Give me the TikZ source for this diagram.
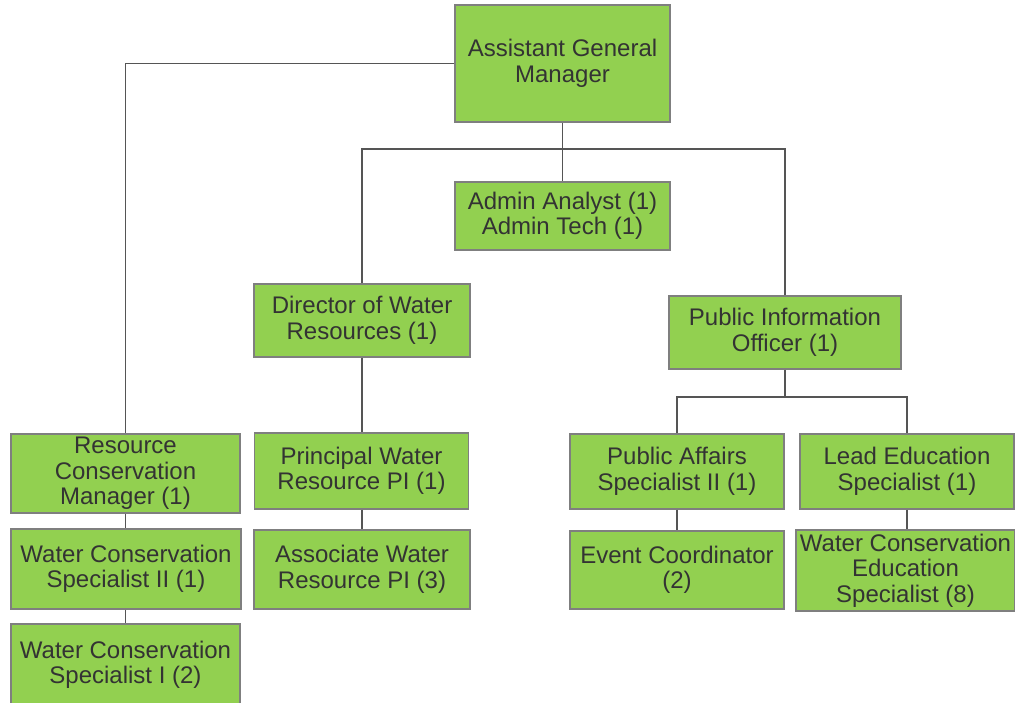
\documentclass[tikz,border=0pt]{standalone}
\usepackage{fontspec}
\setmainfont{Liberation Sans}
\definecolor{boxfill}{HTML}{92D050}
\definecolor{boxline}{HTML}{7F7F7F}
\definecolor{txt}{HTML}{333333}
\definecolor{conn}{HTML}{555555}
\tikzset{
  box/.style={draw=boxline, line width=1.3pt, fill=boxfill, text=txt, align=center,
    inner sep=0pt, font=\fontsize{24}{25.5}\selectfont},
  link/.style={draw=conn, line width=1.2pt}
}
\begin{document}
\begin{tikzpicture}[x=1pt,y=-1pt]
\useasboundingbox[fill=white] (0,0) rectangle (1015,702);
\node[box, minimum width=215, minimum height=117] (agm) at (562.5,63.5) {Assistant General\\Manager};
\node[box, minimum width=215, minimum height=68] (admin) at (562.5,216) {Admin Analyst (1)\\Admin Tech (1)};
\node[box, minimum width=216, minimum height=73] (dir) at (362,320.5) {Director of Water\\Resources (1)};
\node[box, minimum width=232, minimum height=73] (pio) at (785,332.5) {Public Information\\Officer (1)};
\node[box, minimum width=229, minimum height=79] (rcm) at (125.5,473.5) {Resource\\Conservation\\Manager (1)};
\node[box, minimum width=214, minimum height=76] (pwr) at (361.5,471) {Principal Water\\Resource PI (1)};
\node[box, minimum width=216, minimum height=79] (awr) at (362,569.5) {Associate Water\\Resource PI (3)};
\node[box, minimum width=230, minimum height=80] (wcs2) at (126,569) {Water Conservation\\Specialist II (1)};
\node[box, minimum width=229, minimum height=82] (wcs1) at (125.5,665) {Water Conservation\\Specialist I (2)};
\node[box, minimum width=214, minimum height=75] (pa) at (677,471.5) {Public Affairs\\Specialist II (1)};
\node[box, minimum width=214, minimum height=75] (lead) at (907,471.5) {Lead Education\\Specialist (1)};
\node[box, minimum width=214, minimum height=78] (event) at (677,570) {Event Coordinator\\(2)};
\node[box, minimum width=219, minimum height=81] (wces) at (905.5,570.5) {Water Conservation\\Education\\Specialist (8)};
\coordinate (b1) at (0,149);
\coordinate (b2) at (0,397);
\path[link] (agm.west) -| (rcm.north);
\path[link] (agm.south) -- (admin.north);
\path[link] (dir.north) -- (dir.north |- b1) -- (pio.north |- b1) -- (pio.north);
\path[link] (dir.south) -- (dir.south |- pwr.north);
\path[link] (dir.south |- pwr.south) -- (dir.south |- awr.north);
\path[link] (rcm.south) -- (rcm.south |- wcs2.north);
\path[link] (rcm.south |- wcs2.south) -- (rcm.south |- wcs1.north);
\path[link] (pio.south) -- (pio.south |- b2);
\path[link] (pa.north) -- (pa.north |- b2) -- (lead.north |- b2) -- (lead.north);
\path[link] (pa.south) -- (event.north);
\path[link] (lead.south) -- (lead.south |- wces.north);
\end{tikzpicture}
\end{document}
